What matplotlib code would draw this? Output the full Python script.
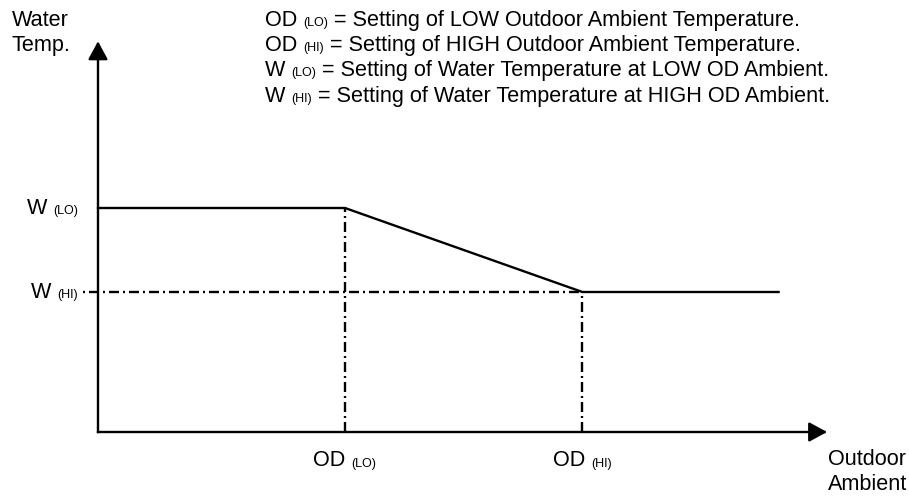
import matplotlib.pyplot as plt
from matplotlib.transforms import IdentityTransform

plt.rcParams['font.family'] = ['Liberation Sans', 'DejaVu Sans']
plt.rcParams['lines.scale_dashes'] = False

# Характерні точки кривої (умовні одиниці)
od_points = [0, 10.2, 20.0, 28.1]
water_points = [16, 16, 10, 10]
od_lo, od_hi = od_points[1], od_points[2]
w_lo, w_hi = water_points[0], water_points[2]

# Довжина осей зі стрілками
x_axis_end = 30.1
y_axis_end = 27.9
guide_start = -0.6

# Підписи
legend_lines = [
    ("OD", "(LO)", "= Setting of LOW Outdoor Ambient Temperature."),
    ("OD", "(HI)", "= Setting of HIGH Outdoor Ambient Temperature."),
    ("W", "(LO)", "= Setting of Water Temperature at LOW OD Ambient."),
    ("W", "(HI)", "= Setting of Water Temperature at HIGH OD Ambient."),
]
y_labels = [("W", "(LO)"), ("W", "(HI)")]
x_labels = [("OD", "(LO)"), ("OD", "(HI)")]
y_title = ["Water", "Temp."]
x_title = ["Outdoor", "Ambient"]

MAIN = 15.6
SUB = 9
LINE = 25.2
W, H = 909, 496

fig = plt.figure(figsize=(W / 100, H / 100), dpi=100)
ax = fig.add_axes([0, 0, 1, 1])
ax.set_xlim(-4.046, 33.485)
ax.set_ylim(-4.571, 30.857)
ax.axis('off')

dash = (0, (7.2, 2.9, 1.4, 2.9))
dash_dot_first = (10.1, (7.2, 2.9, 1.4, 2.9))

# Допоміжні штрихпунктирні лінії
ax.plot([guide_start, od_hi], [w_hi, w_hi], color='black', lw=1.7, linestyle=dash_dot_first,
        dash_capstyle='butt')
ax.plot([od_lo, od_lo], [0, w_lo], color='black', lw=1.7, linestyle=dash, dash_capstyle='butt')
ax.plot([od_hi, od_hi], [0, w_hi], color='black', lw=1.7, linestyle=dash, dash_capstyle='butt')

# Основна крива
ax.plot(od_points, water_points, color='black', lw=1.7, solid_joinstyle='miter')

# Осі зі стрілками
arrow = dict(arrowstyle='-|>,head_length=1.1,head_width=0.6', mutation_scale=10,
             lw=1.7, color='black', shrinkA=0, shrinkB=0, capstyle='projecting')
ax.annotate('', xy=(x_axis_end, 0), xytext=(0, 0), arrowprops=arrow)
ax.annotate('', xy=(0, y_axis_end), xytext=(0, 0), arrowprops=arrow)

renderer = fig.canvas.get_renderer()


def width_of(s, size):
    t = ax.text(0, 0, s, fontsize=size)
    w = t.get_window_extent(renderer).width
    t.remove()
    return w


space = width_of("a a", MAIN) - width_of("aa", MAIN)


def runs(x, y, parts, ha='left'):
    # x, y - пікселі від лівого верхнього кута, y - базова лінія
    widths = [width_of(s, size) for s, size in parts]
    total = sum(widths) + space * (len(parts) - 1)
    x0 = {'left': x, 'center': x - total / 2, 'right': x - total}[ha]
    for (s, size), w in zip(parts, widths):
        ax.text(x0, H - y, s, fontsize=size, transform=IdentityTransform(),
                ha='left', va='baseline')
        x0 += w + space


def to_px(x, y):
    px, py = ax.transData.transform((x, y))
    return px, H - py


# Легенда
for i, (a, b, c) in enumerate(legend_lines):
    runs(265, 26 + i * LINE, [(a, MAIN), (b, SUB), (c, MAIN)])

# Підписи рівнів води
for (a, b), val in zip(y_labels, [w_lo, w_hi]):
    _, py = to_px(0, val)
    runs(78, py + 5.5, [(a, MAIN), (b, SUB)], ha='right')

# Підписи температур зовнішнього повітря
for (a, b), val in zip(x_labels, [od_lo, od_hi]):
    px, _ = to_px(val, 0)
    runs(px, 466.5, [(a, MAIN), (b, SUB)], ha='center')

# Назви осей
for i, s in enumerate(y_title):
    runs(12, 26 + i * LINE, [(s, MAIN)])
for i, s in enumerate(x_title):
    runs(828, 465 + i * LINE, [(s, MAIN)])

fig.savefig('out.png', dpi=100)
